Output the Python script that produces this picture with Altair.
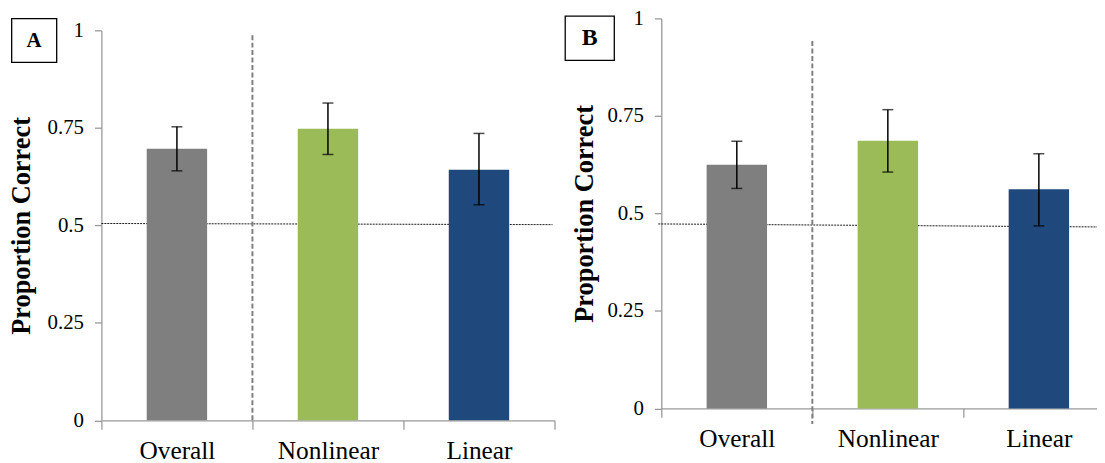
import altair as alt
import pandas as pd

categories = ["Overall", "Nonlinear", "Linear"]
bar_colors = ["#7f7f7f", "#9bbb59", "#1f497d"]
y_ticks = [0, 0.25, 0.5, 0.75, 1]

# Panel A
a_mean = [0.697, 0.748, 0.643]
a_upper = [0.753, 0.814, 0.736]
a_lower = [0.640, 0.682, 0.553]
a_chance = [0.505, 0.502]      # chance line, left end / right end
a_divider = [0.988, 0.0]       # vertical separator, top / bottom

# Panel B
b_mean = [0.625, 0.686, 0.562]
b_upper = [0.685, 0.766, 0.653]
b_lower = [0.564, 0.606, 0.468]
b_chance = [0.473, 0.465]
b_divider = [0.942, -0.04]

SERIF = "Liberation Serif"


def panel(label, mean, upper, lower, chance, divider, width, height, yrange,
          box, text_xy, text_size, chance_x, title_pad):
    df = pd.DataFrame({"cat": categories, "mean": mean, "upper": upper, "lower": lower})
    xs = alt.Scale(domain=categories, paddingInner=0, paddingOuter=0)
    ys = alt.Scale(domain=[0, 1], range=yrange, nice=False)
    y_axis = alt.Axis(values=y_ticks, labelExpr="format(datum.value, '~g')", titlePadding=title_pad)
    x_axis = alt.Axis(tickBand="extent", labelAngle=0)

    def X(field="cat:N", **kw):
        return alt.X(field, scale=xs, sort=categories, title=None, axis=x_axis, **kw)

    def Y(field):
        return alt.Y(field, scale=ys, axis=y_axis, title="Proportion Correct")

    base = alt.Chart(df)
    bars = base.mark_bar(width={"band": 0.4}).encode(
        x=X(), y=Y("mean:Q"),
        color=alt.Color("cat:N", scale=alt.Scale(domain=categories, range=bar_colors), legend=None),
    )
    err = base.mark_rule(color="black", strokeWidth=1.5).encode(x=X(), y=Y("upper:Q"), y2="lower:Q")
    cap_hi = base.mark_tick(color="black", size=11, thickness=1.5).encode(x=X(), y=Y("upper:Q"))
    cap_lo = base.mark_tick(color="black", size=11, thickness=1.5).encode(x=X(), y=Y("lower:Q"))

    chance_df = pd.DataFrame({"left": [chance[0]], "right": [chance[1]]})
    chance_line = alt.Chart(chance_df).mark_rule(
        color="#1a1a1a", strokeDash=[2, 1], strokeWidth=1
    ).encode(x=alt.value(chance_x[0]), x2=alt.value(chance_x[1]), y=Y("left:Q"), y2="right:Q")

    div_df = pd.DataFrame({"cat": ["Nonlinear"], "top": [divider[0]], "bottom": [divider[1]]})
    div_line = alt.Chart(div_df).mark_rule(
        color="#808080", strokeDash=[5, 2.5], strokeWidth=2
    ).encode(x=X(bandPosition=0), y=Y("top:Q"), y2="bottom:Q")

    box_df = pd.DataFrame({"label": [label]})
    box_rect = alt.Chart(box_df).mark_rect(
        fill="white", stroke="black", strokeWidth=1.3
    ).encode(x=alt.value(box[0]), x2=alt.value(box[1]), y=alt.value(box[2]), y2=alt.value(box[3]))
    box_text = alt.Chart(box_df).mark_text(
        font=SERIF, fontWeight="bold", fontSize=text_size, align="center", baseline="middle", color="black"
    ).encode(text="label:N", x=alt.value(text_xy[0]), y=alt.value(text_xy[1]))

    return alt.layer(
        chance_line, div_line, bars, err, cap_hi, cap_lo, box_rect, box_text
    ).properties(width=width, height=height)


panel_a = panel("A", a_mean, a_upper, a_lower, a_chance, a_divider,
                width=456, height=404.5, yrange=[404.5, 12.2],
                box=[-90.3, -45, 0.3, 44.3], text_xy=[-67.7, 22.3], text_size=21,
                chance_x=[0, 454], title_pad=11.5)
panel_b = panel("B", b_mean, b_upper, b_lower, b_chance, b_divider,
                width=456, height=392.5, yrange=[392.5, 0],
                box=[-96.7, -47.3, -2.3, 42.3], text_xy=[-72, 20], text_size=24,
                chance_x=[-3, 456], title_pad=8)

chart = alt.hconcat(panel_a, panel_b, spacing=107.5, bounds="flush").properties(
    padding={"left": 0, "top": -2, "right": -19, "bottom": 0}
).configure_view(stroke=None).configure_axis(
    grid=False,
    domainColor="#9a9a9a",
    domainWidth=1.3,
    tickColor="#9a9a9a",
    tickWidth=1.3,
    labelFont=SERIF,
    labelColor="black",
    titleFont=SERIF,
    titleColor="black",
).configure_axisY(
    tickSize=7,
    labelFontSize=21,
    labelPadding=11,
    titleFontSize=26.5,
    titleFontWeight="bold",
).configure_axisX(
    tickSize=9,
    labelFontSize=25.5,
    labelPadding=9,
)

chart.save("out.html", embed_options={"renderer": "svg", "actions": False})
